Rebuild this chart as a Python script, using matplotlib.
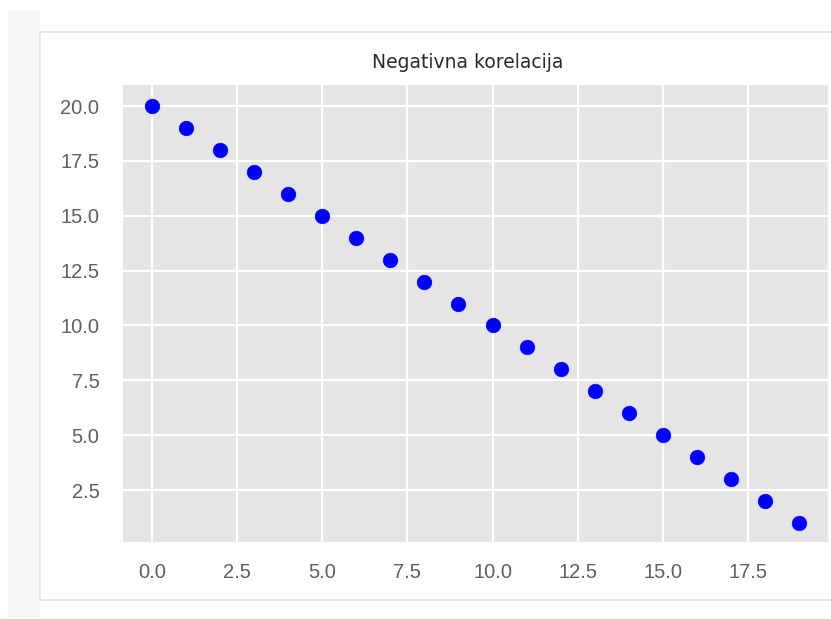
import numpy as np
import matplotlib
matplotlib.use('Agg')
import matplotlib.pyplot as plt
from matplotlib.patches import Rectangle

plt.style.use('ggplot')

# data
x_vals = list(range(20))
y_vals = [20, 19, 18, 17, 16, 15, 14, 13, 12, 11, 10, 9, 8, 7, 6, 5, 4, 3, 2, 1]
xticks = [0.0, 2.5, 5.0, 7.5, 10.0, 12.5, 15.0, 17.5]
yticks = [2.5, 5.0, 7.5, 10.0, 12.5, 15.0, 17.5, 20.0]
title = 'Negativna korelacija'

W, H = 831, 619
fig = plt.figure(figsize=(W / 100, H / 100), dpi=100)
fig.patch.set_facecolor('white')

# faint left band and output-cell frame of the screenshot
fig.patches.append(Rectangle((8 / W, 1 / H), 32 / W, (H - 12) / H,
                             transform=fig.transFigure, facecolor='#f6f6f6',
                             edgecolor='none', zorder=-10))
fig.patches.append(Rectangle((40 / W, (H - 600) / H), 1.0, (600 - 32) / H,
                             transform=fig.transFigure, facecolor='white',
                             edgecolor='#e6e6e6', linewidth=1.2, zorder=-9))

ax = fig.add_axes([123 / W, (H - 542) / H, (828 - 123) / W, (542 - 85) / H])
ax.set_facecolor('#e5e5e5')
ax.scatter(x_vals, y_vals, color='blue', s=110, zorder=3)

ax.set_xlim(-0.85, 19.85)
ax.set_ylim(0.13, 20.96)
ax.set_xticks(xticks)
ax.set_yticks(yticks)
ax.set_xticklabels([f'{t:.1f}' for t in xticks])
ax.set_yticklabels([f'{t:.1f}' for t in yticks])
ax.grid(True, color='white', linewidth=1.6)
ax.tick_params(axis='both', length=0, labelsize=14.5, labelcolor='#5f5f5f')
ax.tick_params(axis='y', pad=17)
ax.tick_params(axis='x', pad=15)
for lbl in ax.get_xticklabels() + ax.get_yticklabels():
    lbl.set_fontfamily('Liberation Sans')
for s in ax.spines.values():
    s.set_visible(False)

fig.text(468 / W, 1 - 63 / H, title, ha='center', va='center',
         fontsize=13.5, color='#2a2a2a', family='DejaVu Sans')

fig.savefig('out.png', dpi=100)
